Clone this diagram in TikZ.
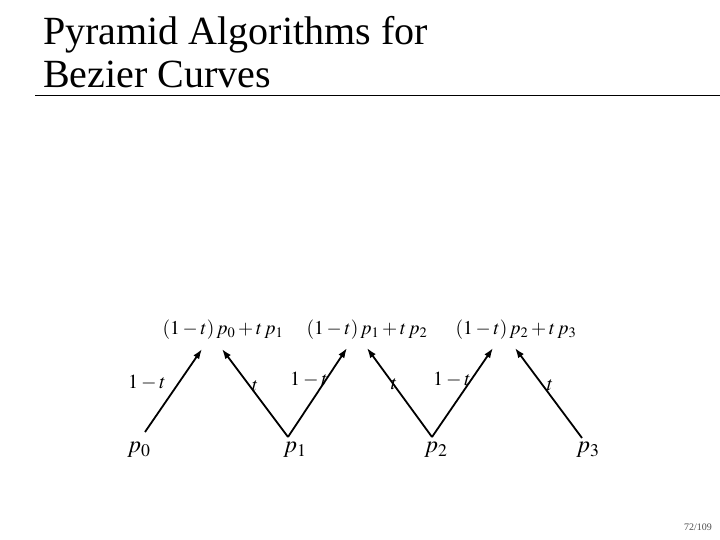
\documentclass[tikz,border=0pt]{standalone}
\usepackage{mathptmx}
\usepackage{fontspec}
\setmainfont{Liberation Serif}
\usepackage{tikz}
\usetikzlibrary{positioning, arrows.meta, calc}

\tikzset{
  edge/.style={line width=1.8pt, -{Latex[length=10pt,width=7pt]}},
  wt/.style={font=\fontsize{20}{22}\selectfont, inner sep=0pt},
  pt/.style={font=\fontsize{24}{26}\selectfont, inner sep=0pt},
  comb/.style={font=\fontsize{19.5}{21}\selectfont, inner sep=0pt}
}

\begin{document}
\begin{tikzpicture}[x=1pt, y=-1pt]
    \useasboundingbox (0,0) rectangle (720,540);
    % Title
    \node[anchor=base west, inner sep=0pt, font=\fontsize{40}{43}\selectfont] (title1) at (43,45) {Pyramid Algorithms for};
    \node[anchor=base west, inner sep=0pt, font=\fontsize{40}{43}\selectfont] (title2) at (43,88) {Bezier Curves};
    \draw[line width=1pt] (35,96) -- (720,96);

    % Control points
    \node[pt] (p0) at (139,450) {$p_0$};
    \node[pt] (p1) at (295,450) {$p_1$};
    \node[pt] (p2) at (436,450) {$p_2$};
    \node[pt] (p3) at (588,450) {$p_3$};

    % First level of the pyramid
    \node[comb] (q01) at (223,330) {$(1-t)\,p_0+t\,p_1$};
    \node[comb] (q12) at (367,330) {$(1-t)\,p_1+t\,p_2$};
    \node[comb] (q23) at (516,330) {$(1-t)\,p_2+t\,p_3$};

    \coordinate (p0up) at (145,432);
    \coordinate (p1up) at (288,437);
    \coordinate (p2up) at (432,437);
    \coordinate (p3up) at (582,438);
    \coordinate (q01l) at (202,349);
    \coordinate (q01r) at (222,349);
    \coordinate (q12l) at (347,348);
    \coordinate (q12r) at (367,348);
    \coordinate (q23l) at (493,348);
    \coordinate (q23r) at (515,348);

    \draw[edge] (p0up) -- (q01l);
    \draw[edge] (p1up) -- (q01r);
    \draw[edge] (p1up) -- (q12l);
    \draw[edge] (p2up) -- (q12r);
    \draw[edge] (p2up) -- (q23l);
    \draw[edge] (p3up) -- (q23r);

    % Weights
    \node[wt] (w0) at (147,383) {$1-t$};
    \node[wt] (w1) at (309,380) {$1-t$};
    \node[wt] (w2) at (452,380) {$1-t$};
    \node[wt] (v0) at (255,386) {$t$};
    \node[wt] (v1) at (394,384) {$t$};
    \node[wt] (v2) at (550,385) {$t$};

    % Page number
    \node[anchor=base east, inner sep=0pt, text=black!70, font=\fontsize{10}{12}\selectfont] (page) at (712,530) {72/109};
\end{tikzpicture}
\end{document}
